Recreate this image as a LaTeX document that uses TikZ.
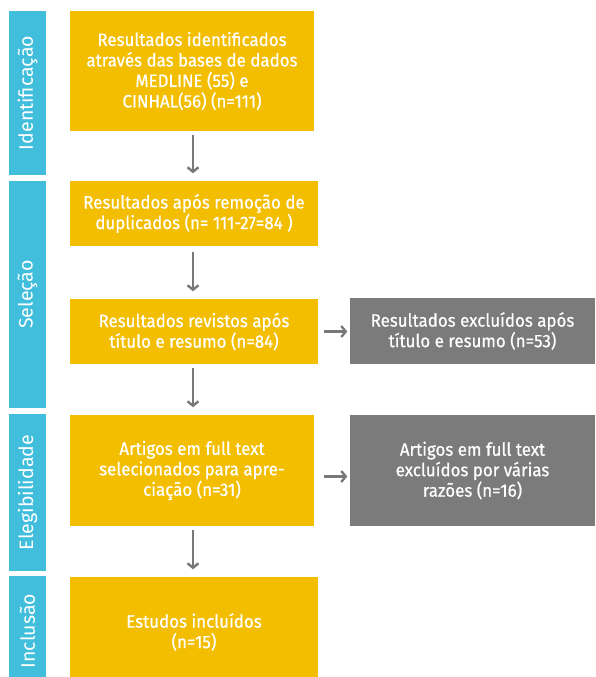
\documentclass[tikz,border=0pt]{standalone}
\usepackage{fontspec}
\setmainfont{Fira Sans}[FakeBold=0.6,FakeStretch=0.94]
\newfontfamily\barfont{Fira Sans}
\usetikzlibrary{arrows.meta}
\definecolor{ybox}{HTML}{F4BE00}
\definecolor{bbar}{HTML}{41BEDC}
\definecolor{gbox}{HTML}{7B7B7B}
\definecolor{garr}{HTML}{787878}
\begin{document}
\begin{tikzpicture}[x=1pt,y=-1pt,
  box/.style={fill=ybox, text=white, align=center, inner sep=0pt, font=\fontsize{18}{20.5}\selectfont},
  gbx/.style={box, fill=gbox},
  bar/.style={fill=bbar, text=white, inner sep=0pt, rotate=90, font=\barfont\fontsize{19.5}{20}\selectfont},
  arr/.style={draw=garr, line width=2.4pt, -{Straight Barb[length=4.5pt,width=11pt]}}]
\useasboundingbox (0,0) rectangle (595,677);
% phase bars
\node[bar, minimum width=164pt, minimum height=37pt] (p1) at (27.5,93) {Identificação};
\node[bar, minimum width=227pt, minimum height=37pt] (p2) at (27.5,294.5) {Seleção};
\node[bar, minimum width=157pt, minimum height=37pt] (p3) at (27.5,492.5) {Elegibilidade};
\node[bar, minimum width=110pt, minimum height=37pt] (p4) at (27.5,631) {Inclusão};
% boxes
\node[box, minimum width=244pt, minimum height=120pt] (b1) at (192,71)
  {Resultados identificados\\através das bases de dados\\MEDLINE (55) e\\CINHAL(56) (n=111)};
\node[box, minimum width=248pt, minimum height=65pt] (b2) at (194,213.5)
  {Resultados após remoção de\\duplicados (n= 111-27=84 )};
\node[box, minimum width=248pt, minimum height=65pt] (b3) at (194,331.5)
  {Resultados revistos após\\título e resumo (n=84)};
\node[gbx, minimum width=245pt, minimum height=66pt] (g1) at (472.5,331)
  {Resultados excluídos após\\título e resumo (n=53)};
\node[box, minimum width=244pt, minimum height=111pt] (b4) at (192,470.5)
  {Artigos em full text\\selecionados para apre-\\ciação (n=31)};
\node[gbx, minimum width=245pt, minimum height=111pt] (g2) at (472.5,470.5)
  {Artigos em full text\\excluídos por várias\\razões (n=16)};
\node[box, minimum width=248pt, minimum height=110pt] (b5) at (194,632)
  {Estudos incluídos\\(n=15)};
% connectors
\draw[arr, shorten <=3.5pt, shorten >=7.5pt] ([xshift=1pt]b1.south) -- ([xshift=1pt]b1.south |- b2.north);
\draw[arr, shorten <=5.5pt, shorten >=7.5pt] ([xshift=-1pt]b2.south) -- ([xshift=-1pt]b2.south |- b3.north);
\draw[arr, shorten <=4pt, shorten >=7.5pt] ([xshift=-1pt]b3.south) -- ([xshift=-1pt]b3.south |- b4.north);
\draw[arr, shorten <=4pt, shorten >=7.5pt] ([xshift=1pt]b4.south) -- ([xshift=1pt]b4.south |- b5.north);
\draw[arr, shorten <=6pt, shorten >=2.5pt] (b3.east) -- (b3.east -| g1.west);
\draw[arr, shorten <=10pt, shorten >=2.5pt] ([yshift=-6pt]b4.east) -- ([yshift=-6pt]b4.east -| g2.west);
\end{tikzpicture}
\end{document}
